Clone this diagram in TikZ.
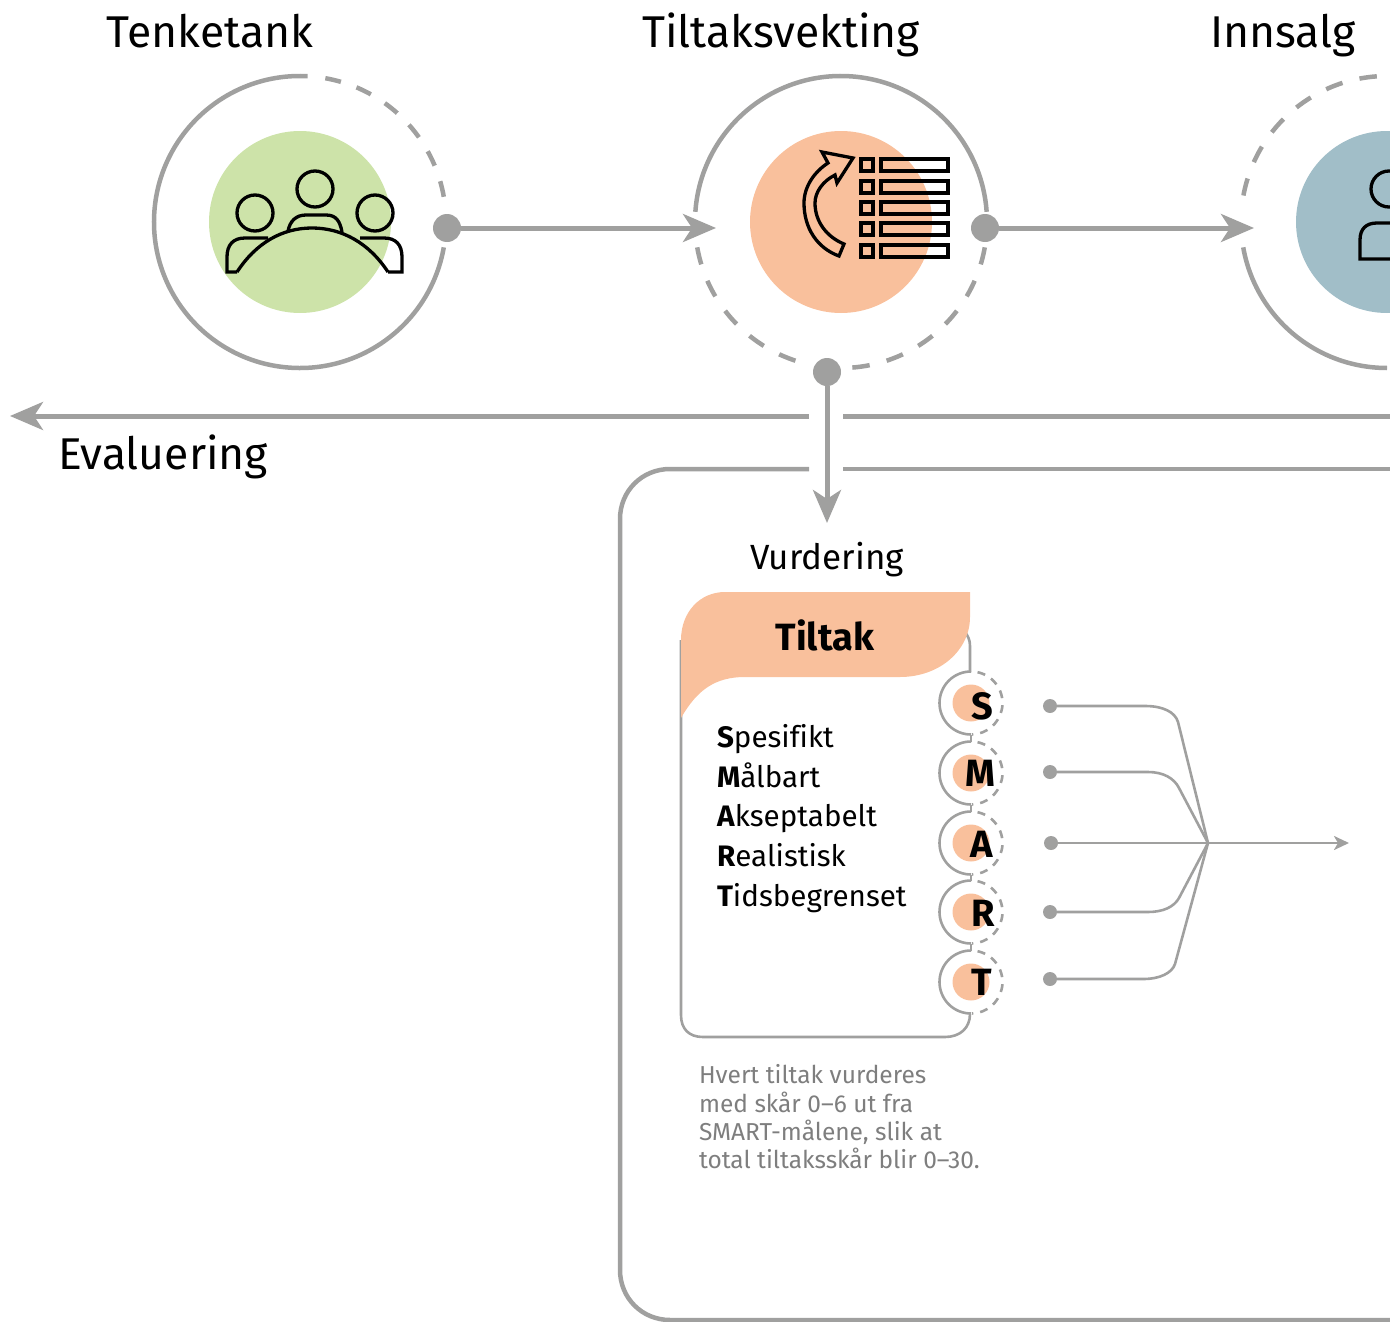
\documentclass[tikz,border=0pt]{standalone}
\usepackage{fontspec}
\setmainfont[Ligatures={TeX,NoCommon}]{Fira Sans}
\usetikzlibrary{arrows.meta}
\definecolor{linegray}{HTML}{A0A09F}
\definecolor{textgray}{HTML}{7E7E7E}
\definecolor{leafgreen}{HTML}{CDE3A9}
\definecolor{peach}{HTML}{F9C09C}
\definecolor{steelblue}{HTML}{A1BEC8}
\begin{document}
\begin{tikzpicture}[x=1pt,y=-1pt,inner sep=0pt,outer sep=0pt,
hubring/.style={circle,minimum size=292pt},
hubdisc/.style={circle,minimum size=182pt},
smallring/.style={circle,minimum size=63pt},
smalldisc/.style={circle,minimum size=37pt,fill=peach},
bigdot/.style={circle,minimum size=28pt,fill=linegray},
smalldot/.style={circle,minimum size=14pt,fill=linegray},
ringline/.style={draw=linegray,line width=4.5pt},
ringdash/.style={ringline,dash pattern=on 17.5pt off 17.5pt},
miniline/.style={draw=linegray,line width=2.6pt},
minidash/.style={miniline,dash pattern=on 8pt off 7pt},
flowline/.style={draw=linegray,line width=5pt,-{Stealth[length=33pt,width=28pt,inset=9pt]}},
branchline/.style={draw=linegray,line width=2.6pt},
iconline/.style={draw=black,line width=3.3pt,line join=miter},
steptitle/.style={anchor=base,font=\fontsize{44.5}{44.5}\selectfont},
listline/.style={anchor=base west,font=\fontsize{29.6}{29.6}\selectfont},
letter/.style={anchor=base,font=\fontsize{38}{38}\selectfont\bfseries}]

\useasboundingbox (0,0) rectangle (1390,1322);
\clip (0,0) rectangle (1390,1322);

\draw (300,222) node[hubring] (tenk) {};
\draw (841,222) node[hubring] (vekt) {};
\draw (1387,222) node[hubring] (innsalg) {};
\draw (tenk) node[hubdisc,fill=leafgreen] {};
\draw (vekt) node[hubdisc,fill=peach] {};
\draw (innsalg) node[hubdisc,fill=steelblue] {};

\draw (210,48) node[steptitle] (tenktitle) {Tenketank};
\draw (781,48) node[steptitle] (vekttitle) {Tiltaksvekting};
\draw (1283,48) node[steptitle] (innsalgtitle) {Innsalg};
\draw (163,469) node[steptitle] (evaltitle) {Evaluering};

% rings
\draw[ringline] (tenk.87) arc[start angle=87,end angle=350,radius=146pt];
\draw[ringdash,dash pattern=on 16pt off 16.5pt] (tenk.80) arc[start angle=80,end angle=9,radius=146pt];
\draw[ringline] (vekt.176) arc[start angle=176,end angle=4,radius=146pt];
\draw[ringdash] (vekt.-10) arc[start angle=-10,end angle=-86,radius=146pt];
\draw[ringdash] (vekt.190) arc[start angle=190,end angle=253,radius=146pt];
\draw[ringline] (innsalg.190) arc[start angle=190,end angle=270,radius=146pt];
\draw[ringdash] (innsalg.94) arc[start angle=94,end angle=170,radius=146pt];

\draw (447,228) node[bigdot] (tenkdot) {};
\draw (985,228) node[bigdot] (vektdot) {};
\draw (827,372) node[bigdot] (vurddot) {};
\draw (716,228) coordinate (vektin);
\draw (1254,228) coordinate (innsalgin);
\draw (827,523) coordinate (vurdin);

\draw[flowline] (tenkdot) -- (vektin);
\draw[flowline] (vektdot) -- (innsalgin);
\draw[flowline] (vurddot) -- (vurdin);
\draw[flowline] (809,416) -- (10,416);
\draw[draw=linegray,line width=5pt] (843,416) -- (1390,416);

% outer frame
\draw[draw=linegray,line width=4.5pt] (809,469) -- (670,469) .. controls (642,469) and (620,491) .. (620,519) -- (620,1270) .. controls (620,1298) and (642,1320) .. (670,1320) -- (1395,1320);
\draw[draw=linegray,line width=4.5pt] (843,469) -- (1395,469);

\draw (827,569) node[anchor=base,font=\fontsize{35}{35}\selectfont] (vurdtitle) {Vurdering};

% people icon
\draw[iconline] (255,213) circle (18pt);
\draw[iconline] (315,189) circle (18pt);
\draw[iconline] (375,213) circle (18pt);
\draw[iconline] (237,272) .. controls (256,243) and (282,228) .. (312,228) .. controls (342,228) and (369,243) .. (388,272);
\draw[iconline] (237,272) -- (227,272) -- (227,257) .. controls (227,245) and (233,238) .. (245,238) -- (268,238);
\draw[iconline] (388,272) -- (402,272) -- (402,257) .. controls (402,245) and (396,238) .. (384,238) -- (360,238);
\draw[iconline] (288,231) .. controls (290,221) and (296,215) .. (306,215) -- (326,215) .. controls (336,215) and (340,221) .. (342,232);

% list icon
\draw[iconline] (861,159) rectangle (873,171);
\draw[iconline] (861,181) rectangle (873,193);
\draw[iconline] (861,202) rectangle (873,214);
\draw[iconline] (861,223) rectangle (873,235);
\draw[iconline] (861,245) rectangle (873,257);
\draw[iconline] (881,159) rectangle (948,171);
\draw[iconline] (881,181) rectangle (948,193);
\draw[iconline] (881,202) rectangle (948,214);
\draw[iconline] (881,223) rectangle (948,235);
\draw[iconline] (881,245) rectangle (948,257);
\draw[iconline] (844,244) -- (839,256) .. controls (817,248) and (804,228) .. (804,203) .. controls (804,187) and (814,172) .. (828,163) -- (822,152) -- (853,158) -- (837,183) -- (835,175) .. controls (823,181) and (815,192) .. (815,203) .. controls (815,222) and (827,237) .. (844,244) -- cycle;

% person icon
\draw[iconline] (1389,189) circle (18pt);
\draw[iconline] (1395,259) -- (1360,259) -- (1360,240) .. controls (1360,229) and (1366,223) .. (1377,223) -- (1395,223);

% card
\draw[miniline] (681,640) -- (681,1015) .. controls (681,1029) and (689,1037) .. (703,1037) -- (945,1037) .. controls (960,1037) and (970,1028) .. (970,1014);
\draw[miniline] (965,632) .. controls (968,636) and (970,640) .. (970,646) -- (970,672);
\fill[peach] (681,640) .. controls (681,612) and (700,592) .. (725,592) -- (970,592) -- (970,617) .. controls (970,650) and (940,677) .. (900,677) -- (745,677) .. controls (715,677) and (697,690) .. (681,718) -- cycle;
\draw (825,650) node[anchor=base,font=\fontsize{38}{38}\selectfont\bfseries] (cardtitle) {Tiltak};

\draw (717,747) node[listline] (spes) {\textbf{S}pesifikt};
\draw (717,787) node[listline] (maal) {\textbf{M}ålbart};
\draw (717,826.5) node[listline] (aksept) {\textbf{A}kseptabelt};
\draw (717,866.5) node[listline] (real) {\textbf{R}ealistisk};
\draw (717,906) node[listline] (tids) {\textbf{T}idsbegrenset};

\draw (699,1117) node[anchor=west,align=left,text=textgray,font=\fontsize{24.5}{28.3}\selectfont] (note) {Hvert tiltak vurderes\\med skår 0--6 ut fra\\SMART-målene, slik at\\total tiltaksskår blir 0--30.};

% small rings
\draw (971,703) node[smallring] (ringS) {};
\draw (971,773) node[smallring] (ringM) {};
\draw (971,843) node[smallring] (ringA) {};
\draw (971,912) node[smallring] (ringR) {};
\draw (971,982) node[smallring] (ringT) {};

\draw[miniline] (ringS.90) arc[start angle=90,end angle=270,radius=31.5pt];
\draw[miniline] (ringM.90) arc[start angle=90,end angle=270,radius=31.5pt];
\draw[miniline] (ringA.90) arc[start angle=90,end angle=270,radius=31.5pt];
\draw[miniline] (ringR.90) arc[start angle=90,end angle=270,radius=31.5pt];
\draw[miniline] (ringT.90) arc[start angle=90,end angle=270,radius=31.5pt];
\draw[minidash] (ringS.78) arc[start angle=78,end angle=-88,radius=31.5pt];
\draw[minidash] (ringM.78) arc[start angle=78,end angle=-88,radius=31.5pt];
\draw[minidash] (ringA.78) arc[start angle=78,end angle=-88,radius=31.5pt];
\draw[minidash] (ringR.78) arc[start angle=78,end angle=-88,radius=31.5pt];
\draw[minidash] (ringT.78) arc[start angle=78,end angle=-88,radius=31.5pt];

\draw[miniline] (ringS.270) -- (ringM.90);
\draw[miniline] (ringM.270) -- (ringA.90);
\draw[miniline] (ringA.270) -- (ringR.90);
\draw[miniline] (ringR.270) -- (ringT.90);

\draw (ringS) node[smalldisc] {};
\draw (ringM) node[smalldisc] {};
\draw (ringA) node[smalldisc] {};
\draw (ringR) node[smalldisc] {};
\draw (ringT) node[smalldisc] {};
\draw (982,719) node[letter] (letS) {S};
\draw (980,786) node[letter] (letM) {M};
\draw (982,857) node[letter] (letA) {A};
\draw (983,926) node[letter] (letR) {R};
\draw (982,995) node[letter] (letT) {T};

% branches
\draw (1050,706) node[smalldot] (dotS) {};
\draw (1050,772) node[smalldot] (dotM) {};
\draw (1051,843) node[smalldot] (dotA) {};
\draw (1050,912) node[smalldot] (dotR) {};
\draw (1050,979) node[smalldot] (dotT) {};
\draw (1208,843) coordinate (join);
\draw (1349,843) coordinate (scoreout);

\draw[branchline] (dotS) -- (1145,706) .. controls (1163,706) and (1175,712) .. (1178,722) -- (join);
\draw[branchline] (dotM) -- (1148,772) .. controls (1163,772) and (1174,778) .. (1179,788) -- (join);
\draw[branchline] (dotA) -- (join);
\draw[branchline] (dotR) -- (1148,912) .. controls (1163,912) and (1174,907) .. (1179,898) -- (join);
\draw[branchline] (dotT) -- (1143,979) .. controls (1160,979) and (1172,973) .. (1175,964) -- (join);
\draw[branchline,-{Stealth[length=15pt,width=14pt,inset=4pt]}] (join) -- (scoreout);

\end{tikzpicture}
\end{document}
